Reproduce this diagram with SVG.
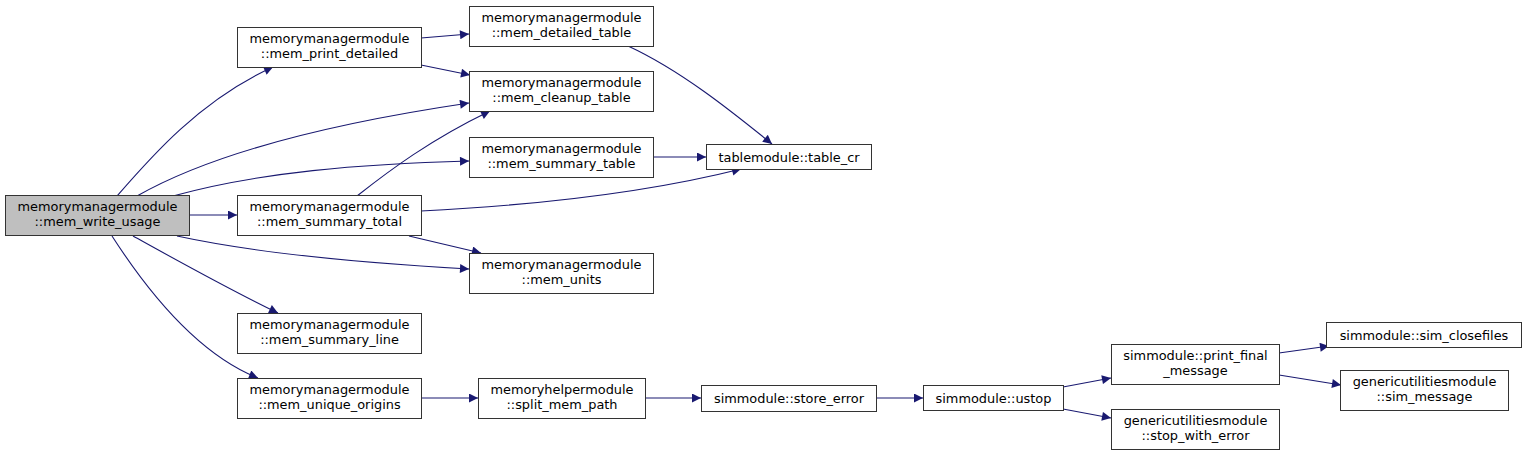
<svg xmlns="http://www.w3.org/2000/svg" width="1527" height="456" viewBox="0 0 1527 456">
<style>
.box{fill:#ffffff;stroke:#333333;stroke-width:1}
.root{fill:#bfbfbf;stroke:#333333;stroke-width:1}
text{font-family:"DejaVu Sans","Liberation Sans",sans-serif;font-size:12.9px;fill:#000000;text-anchor:middle}
.edge{fill:none;stroke:#191970;stroke-width:1.1}
</style>
<defs>
<marker id="arr" viewBox="0 0 10 10" refX="10" refY="5" markerWidth="13" markerHeight="9" markerUnits="userSpaceOnUse" orient="auto">
<path d="M0,0 L10,5 L0,10 Z" fill="#191970"/>
</marker>
</defs>
<rect width="1527" height="456" fill="#ffffff"/>
<g id="connectors">
<path class="edge" marker-end="url(#arr)" d="M117,196 C150,158 200,100 273,67"/>
<path class="edge" marker-end="url(#arr)" d="M137,196 C200,160 300,128 469,103"/>
<path class="edge" marker-end="url(#arr)" d="M173,196 C260,172 360,164 469,161"/>
<path class="edge" marker-end="url(#arr)" d="M189,215 L237,215"/>
<path class="edge" marker-end="url(#arr)" d="M177,236 C260,254 380,264 469,269"/>
<path class="edge" marker-end="url(#arr)" d="M133,236 C180,262 230,290 278,313"/>
<path class="edge" marker-end="url(#arr)" d="M112,236 C150,295 200,355 258,378"/>
<path class="edge" marker-end="url(#arr)" d="M421,38 L469,34"/>
<path class="edge" marker-end="url(#arr)" d="M421,65 L470,75"/>
<path class="edge" marker-end="url(#arr)" d="M357,196 C390,170 430,140 490,111"/>
<path class="edge" marker-end="url(#arr)" d="M421,211 C540,205 650,192 741,169"/>
<path class="edge" marker-end="url(#arr)" d="M409,236 L481,253"/>
<path class="edge" marker-end="url(#arr)" d="M628,46 C680,70 730,110 772,144"/>
<path class="edge" marker-end="url(#arr)" d="M653,157 L706,157"/>
<path class="edge" marker-end="url(#arr)" d="M421,398 L478,398"/>
<path class="edge" marker-end="url(#arr)" d="M645,398 L701,398"/>
<path class="edge" marker-end="url(#arr)" d="M876,398 L923,398"/>
<path class="edge" marker-end="url(#arr)" d="M1063,387 L1111,378"/>
<path class="edge" marker-end="url(#arr)" d="M1063,409 L1111,418"/>
<path class="edge" marker-end="url(#arr)" d="M1279,353 L1329,346"/>
<path class="edge" marker-end="url(#arr)" d="M1279,375 L1341,385"/>
</g>
<g id="n0"><rect class="root" x="5.5" y="195.5" width="184" height="40"/><text x="97.5" y="211">memorymanagermodule</text><text x="97.5" y="226">::mem_write_usage</text></g>
<g id="n1"><rect class="box" x="237.5" y="27.5" width="184" height="40"/><text x="329.5" y="43">memorymanagermodule</text><text x="329.5" y="58">::mem_print_detailed</text></g>
<g id="n2"><rect class="box" x="237.5" y="195.5" width="184" height="40"/><text x="329.5" y="211">memorymanagermodule</text><text x="329.5" y="226">::mem_summary_total</text></g>
<g id="n3"><rect class="box" x="237.5" y="313.5" width="184" height="40"/><text x="329.5" y="329">memorymanagermodule</text><text x="329.5" y="344">::mem_summary_line</text></g>
<g id="n4"><rect class="box" x="237.5" y="378.5" width="184" height="40"/><text x="329.5" y="394">memorymanagermodule</text><text x="329.5" y="409">::mem_unique_origins</text></g>
<g id="n5"><rect class="box" x="469.5" y="6.5" width="184" height="40"/><text x="561.5" y="22">memorymanagermodule</text><text x="561.5" y="37">::mem_detailed_table</text></g>
<g id="n6"><rect class="box" x="469.5" y="71.5" width="184" height="40"/><text x="561.5" y="87">memorymanagermodule</text><text x="561.5" y="102">::mem_cleanup_table</text></g>
<g id="n7"><rect class="box" x="469.5" y="137.5" width="184" height="40"/><text x="561.5" y="153">memorymanagermodule</text><text x="561.5" y="168">::mem_summary_table</text></g>
<g id="n8"><rect class="box" x="469.5" y="253.5" width="184" height="40"/><text x="561.5" y="269">memorymanagermodule</text><text x="561.5" y="284">::mem_units</text></g>
<g id="n9"><rect class="box" x="706.5" y="144.5" width="165" height="25"/><text x="789" y="161.5">tablemodule::table_cr</text></g>
<g id="n10"><rect class="box" x="478.5" y="378.5" width="167" height="40"/><text x="562" y="394">memoryhelpermodule</text><text x="562" y="409">::split_mem_path</text></g>
<g id="n11"><rect class="box" x="701.5" y="385.5" width="175" height="26"/><text x="789" y="403">simmodule::store_error</text></g>
<g id="n12"><rect class="box" x="923.5" y="385.5" width="140" height="25"/><text x="993.5" y="402.5">simmodule::ustop</text></g>
<g id="n13"><rect class="box" x="1111.5" y="344.5" width="168" height="40"/><text x="1195.5" y="360">simmodule::print_final</text><text x="1195.5" y="375">_message</text></g>
<g id="n14"><rect class="box" x="1111.5" y="409.5" width="168" height="40"/><text x="1195.5" y="425">genericutilitiesmodule</text><text x="1195.5" y="440">::stop_with_error</text></g>
<g id="n15"><rect class="box" x="1326.5" y="322.5" width="195" height="25"/><text x="1424" y="339.5">simmodule::sim_closefiles</text></g>
<g id="n16"><rect class="box" x="1340.5" y="370.5" width="168" height="40"/><text x="1424.5" y="386">genericutilitiesmodule</text><text x="1424.5" y="401">::sim_message</text></g>
</svg>
